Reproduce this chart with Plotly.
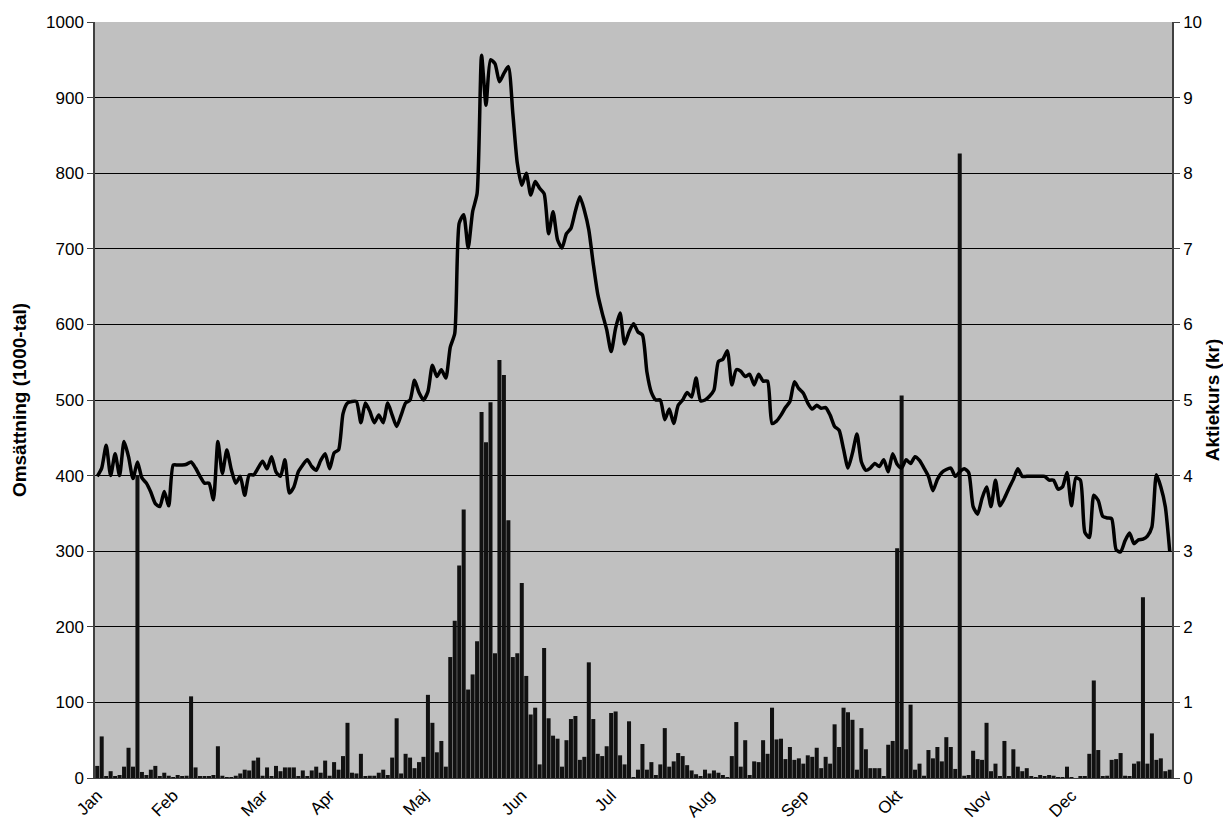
import plotly.graph_objects as go

# Omsättning (1000-tal) per handelsdag
omsattning = [
    16, 55, 2, 9, 2, 4, 15, 40, 15, 400, 8, 4, 11, 16, 2, 7, 3, 1, 4, 2,
    3, 108, 14, 2, 2, 2, 4, 42, 3, 1, 1, 3, 6, 11, 10, 23, 27, 3, 14, 2,
    16, 9, 14, 14,
    14, 2, 10, 2, 10, 15, 7, 23, 3, 21, 11, 29, 73, 7, 6, 32, 2, 3, 3, 7,
    11, 4, 27, 79, 6, 32, 27, 13, 21, 28, 110, 73, 34, 49, 15,
    160, 208, 281, 355, 117, 137, 181, 484, 444, 497, 165, 553, 533, 341,
    160, 165, 258, 135, 84, 93, 18, 172, 79, 56, 52, 15, 50, 78, 82, 24,
    28, 153, 78, 32, 29, 42, 86, 88, 30, 18, 75, 1, 11, 45, 11, 21, 4, 18,
    66, 15, 22, 33, 29, 17, 10, 5, 2, 11, 6, 10, 7, 4, 1, 29, 74, 15, 50,
    4, 22, 21, 50,
    32, 93, 51, 52, 25, 41, 24, 26, 19, 30, 28, 40, 13, 28, 19, 71, 41, 93,
    87, 77, 11, 66, 38, 13, 13, 13, 2, 44, 49, 304, 506, 38, 97, 11, 19, 3,
    37, 26, 41, 22, 54, 41, 12, 826, 3, 4, 36, 25, 24, 73, 9, 19, 2, 49, 2,
    38, 15, 9, 13, 2, 1, 4, 2, 4, 3, 1, 1, 15, 1, 0, 2, 2, 32, 129, 37, 2,
    3, 24, 25, 33, 3, 2, 19, 22, 239, 19, 59, 24, 26, 9, 11,
]

# Aktiekurs (kr) per handelsdag
aktiekurs = [
    3.99, 4.10, 4.40, 4.00, 4.29, 4.00, 4.45, 4.25, 3.96, 4.18,
    3.97, 3.90, 3.78, 3.63, 3.59, 3.79, 3.60, 4.14, 4.14, 4.14,
    4.15, 4.18, 4.10, 3.99, 3.90, 3.90, 3.68, 4.45, 4.03, 4.34,
    4.08, 3.90, 3.99, 3.74, 4.01, 4.01, 4.10, 4.19, 4.09, 4.25,
    4.05, 3.99, 4.21, 3.77, 3.85, 4.05, 4.14, 4.21, 4.12, 4.07,
    4.20, 4.29, 4.09, 4.30, 4.34, 4.82, 4.96, 4.98, 4.98, 4.70,
    4.96, 4.85, 4.70, 4.80, 4.70, 4.96, 4.80, 4.65, 4.80, 4.96,
    5.00, 5.26, 5.10, 5.00, 5.11, 5.46, 5.31, 5.40, 5.29, 5.70,
    5.88, 7.34, 7.45, 7.01, 7.49, 7.73, 9.56, 8.90, 9.50, 9.45,
    9.21, 9.32, 9.41, 8.79, 8.13, 7.84, 8.00, 7.71, 7.89, 7.80,
    7.73, 7.20, 7.49, 7.12, 7.01, 7.20, 7.27, 7.50, 7.69, 7.51,
    7.25, 6.80, 6.40, 6.15, 5.93, 5.64, 5.95, 6.15, 5.74, 5.90,
    6.01, 5.90, 5.86, 5.37, 5.10, 5.00, 5.00, 4.74, 4.88, 4.69,
    4.93, 5.00, 5.10, 5.04, 5.29, 4.99, 5.00, 5.05, 5.13, 5.51,
    5.54, 5.65, 5.20, 5.40, 5.38, 5.31, 5.34, 5.20, 5.34, 5.25,
    5.25, 4.69, 4.72, 4.80, 4.90, 4.98, 5.24, 5.15, 5.09, 4.96,
    4.88, 4.93, 4.89, 4.90, 4.80, 4.65, 4.60, 4.35, 4.10, 4.30,
    4.55, 4.18, 4.07, 4.10, 4.16, 4.12, 4.21, 4.05, 4.29, 4.15,
    4.10, 4.21, 4.16, 4.25, 4.20, 4.10, 3.99, 3.80, 3.95, 4.04,
    4.08, 4.10, 3.99, 4.05, 4.09, 4.04, 3.59, 3.49, 3.70, 3.85,
    3.59, 3.94, 3.60, 3.70, 3.83, 3.95, 4.09, 3.99, 3.99, 3.99,
    3.99, 3.99, 3.99, 3.94, 3.94, 3.82, 3.85, 4.04, 3.60, 3.97,
    3.94, 3.25, 3.18, 3.74, 3.67, 3.46, 3.44, 3.43, 3.02, 2.99,
    3.14, 3.24, 3.10, 3.15, 3.16, 3.20, 3.32, 4.01, 3.85, 3.59,
    2.99,
]

manader = ["Jan", "Feb", "Mar", "Apr", "Maj", "Jun",
           "Jul", "Aug", "Sep", "Okt", "Nov", "Dec"]
manad_start = [0, 17, 37, 52, 73, 95, 115, 137, 158, 179, 199, 218]

dagar = list(range(len(omsattning)))
n = len(dagar)

FONT = "Liberation Sans, Arial, sans-serif"
TICK = 17
TITLE = 19

fig = go.Figure()
fig.add_trace(go.Bar(
    x=dagar, y=omsattning, marker=dict(color="#111111", line=dict(width=0)),
    name="Omsättning", yaxis="y",
))
fig.add_trace(go.Scatter(
    x=list(range(len(aktiekurs))), y=aktiekurs, mode="lines",
    line=dict(color="#000000", width=3.5, shape="spline", smoothing=0.6),
    name="Aktiekurs", yaxis="y2",
))

fig.update_layout(
    width=1215, height=814,
    margin=dict(l=87, r=51, t=14, b=44),
    paper_bgcolor="white", plot_bgcolor="#C0C0C0",
    showlegend=False, bargap=0.1,
    font=dict(family=FONT, size=TICK, color="black"),
    xaxis=dict(
        range=[-0.5, n - 0.5], tickmode="array", automargin=False,
        tickvals=manad_start, ticktext=manader, tickangle=-45,
        showgrid=False, zeroline=False, showline=True,
        linecolor="#404040", linewidth=1, ticks="",
        tickfont=dict(family=FONT, size=TICK),
    ),
    yaxis=dict(
        range=[0, 1000], dtick=100, showgrid=True, gridcolor="black",
        gridwidth=1, zeroline=False, showline=True, linecolor="#404040",
        linewidth=1.5, ticks="outside", ticklen=6, tickcolor="#404040",
        automargin=False, tickfont=dict(family=FONT, size=TICK),
        title=dict(text="<b>Omsättning (1000-tal)</b>",
                   font=dict(family=FONT, size=TITLE), standoff=14),
    ),
    yaxis2=dict(
        range=[0, 10], dtick=1, overlaying="y", side="right",
        showgrid=False, zeroline=False, showline=True, linecolor="#404040",
        linewidth=1.5, ticks="outside", ticklen=6, tickcolor="#404040",
        automargin=False, tickfont=dict(family=FONT, size=TICK),
        title=dict(text="<b>Aktiekurs (kr)</b>",
                   font=dict(family=FONT, size=TITLE), standoff=8),
    ),
)

fig.write_html("out.html")
